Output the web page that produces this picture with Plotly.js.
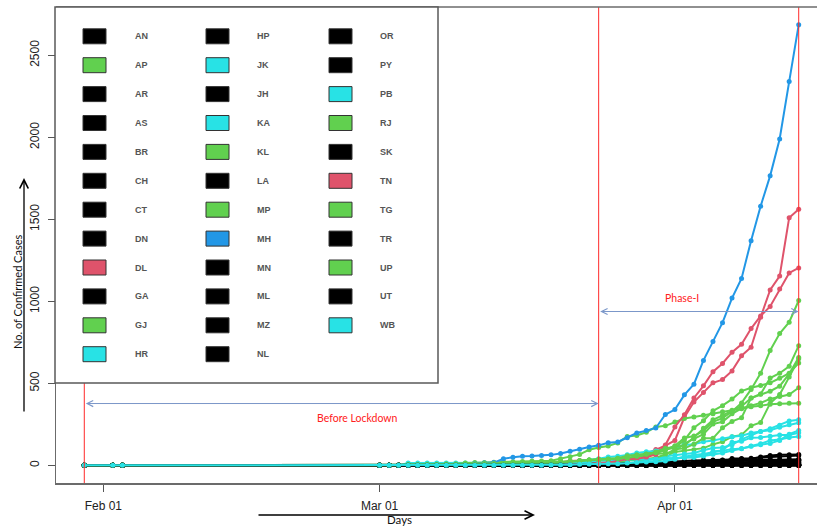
<!DOCTYPE html>
<html><head><meta charset="utf-8">
<script src="https://cdn.plot.ly/plotly-3.0.1.min.js"></script>
<style>html,body{margin:0;padding:0;background:#fff}#chart{width:817px;height:528px}</style>
</head><body><div id="chart"></div>
<script>
// Dates with reported data (Jan 30, Feb 2, Feb 3, then daily Mar 1 .. Apr 14, 2020)
const dates = ['2020-01-30','2020-02-02','2020-02-03',
 '2020-03-01','2020-03-02','2020-03-03','2020-03-04','2020-03-05','2020-03-06','2020-03-07','2020-03-08','2020-03-09','2020-03-10',
 '2020-03-11','2020-03-12','2020-03-13','2020-03-14','2020-03-15','2020-03-16','2020-03-17','2020-03-18','2020-03-19','2020-03-20',
 '2020-03-21','2020-03-22','2020-03-23','2020-03-24','2020-03-25','2020-03-26','2020-03-27','2020-03-28','2020-03-29','2020-03-30',
 '2020-03-31',
 '2020-04-01','2020-04-02','2020-04-03','2020-04-04','2020-04-05','2020-04-06','2020-04-07','2020-04-08','2020-04-09','2020-04-10',
 '2020-04-11','2020-04-12','2020-04-13','2020-04-14'];

// Cumulative confirmed cases per state
const AN = [0,0,0, 0,0,0,0,0,0,0,0,0,0, 0,0,0,0,0,0,0,0,0,0, 0,0,0,0,0,1,6,9,9,9, 10, 10,10,10,10,10,10,11,11,11,11,11,11,11,11];
const AP = [0,0,0, 0,0,0,0,0,0,0,0,0,0, 0,1,1,1,1,1,1,1,1,3, 3,6,7,8,9,11,13,14,19,23, 44, 87,132,161,190,252,266,314,348,363,381,405,420,432,473];
const AR = [0,0,0, 0,0,0,0,0,0,0,0,0,0, 0,0,0,0,0,0,0,0,0,0, 0,0,0,0,0,0,0,0,0,0, 0, 0,1,1,1,1,1,1,1,1,1,1,1,1,1];
const AS = [0,0,0, 0,0,0,0,0,0,0,0,0,0, 0,0,0,0,0,0,0,0,0,0, 0,0,0,0,0,0,0,0,0,0, 1, 1,16,20,24,26,26,27,28,29,29,29,31,31,32];
const BR = [0,0,0, 0,0,0,0,0,0,0,0,0,0, 0,0,0,0,0,0,0,0,0,0, 0,2,2,4,5,9,9,11,15,15, 21, 23,27,30,32,32,32,38,39,39,51,60,64,65,66];
const CH = [0,0,0, 0,0,0,0,0,0,0,0,0,0, 0,0,0,0,0,0,0,1,1,5, 5,6,7,7,7,7,8,8,8,13, 15, 16,18,18,18,18,18,18,18,18,19,19,21,21,21];
const CT = [0,0,0, 0,0,0,0,0,0,0,0,0,0, 0,0,0,0,0,0,0,1,1,1, 1,1,1,1,1,6,6,6,7,7, 9, 9,9,9,9,10,10,10,10,10,18,18,25,31,31];
const DN = [0,0,0, 0,0,0,0,0,0,0,0,0,0, 0,0,0,0,0,0,0,0,0,0, 0,0,0,0,0,0,0,0,0,0, 0, 0,0,0,0,1,1,1,1,1,1,1,1,1,1];
const DL = [0,0,0, 0,1,1,2,3,3,3,3,4,4, 5,6,7,7,7,7,8,10,12,17, 26,29,30,31,35,36,39,49,72,97, 120, 152,293,386,445,503,523,576,669,720,903,1069,1154,1510,1561];
const GA = [0,0,0, 0,0,0,0,0,0,0,0,0,0, 0,0,0,0,0,0,0,0,0,0, 0,0,0,0,3,3,3,3,3,5, 5, 5,5,6,7,7,7,7,7,7,7,7,7,7,7];
const GJ = [0,0,0, 0,0,0,0,0,0,0,0,0,0, 0,0,0,0,0,0,0,0,2,7, 14,18,30,33,38,43,44,53,63,69, 74, 82,88,95,105,128,144,175,186,241,262,378,432,538,650];
const HR = [0,0,0, 0,0,0,14,14,14,14,14,14,14, 14,14,14,14,14,15,16,17,17,17, 21,21,26,29,30,32,33,33,36,36, 43, 43,49,53,58,84,91,141,147,169,170,177,185,185,199];
const HP = [0,0,0, 0,0,0,0,0,0,0,0,0,0, 0,0,0,0,0,0,0,0,0,2, 2,2,3,3,3,3,3,3,3,3, 3, 3,6,6,6,13,13,18,18,18,28,32,32,32,32];
const JK = [0,0,0, 0,0,0,0,0,0,0,0,1,1, 1,1,2,2,3,3,3,3,4,4, 4,4,4,7,7,11,13,20,33,38, 55, 62,70,75,92,106,109,125,158,184,207,224,245,270,278];
const JH = [0,0,0, 0,0,0,0,0,0,0,0,0,0, 0,0,0,0,0,0,0,0,0,0, 0,0,0,0,0,0,0,0,0,0, 1, 1,2,2,3,4,4,4,4,13,13,17,19,24,27];
const KA = [0,0,0, 0,0,0,0,0,0,0,0,4,4, 4,5,6,6,6,7,11,13,15,15, 20,26,33,41,51,55,64,76,83,88, 101, 110,124,128,144,151,163,175,181,197,207,214,232,247,260];
const KL = [1,2,3, 3,3,3,3,3,3,3,8,9,15, 17,17,19,22,22,24,26,27,28,40, 52,67,95,109,118,137,176,182,202,234, 241, 265,286,295,306,314,327,336,345,357,364,373,375,378,379];
const LA = [0,0,0, 0,0,0,0,0,0,2,3,3,3, 3,3,3,3,3,4,6,8,8,10, 13,13,13,13,13,13,13,13,13,13, 13, 13,13,14,14,14,14,14,14,15,15,15,15,17,17];
const MP = [0,0,0, 0,0,0,0,0,0,0,0,0,0, 0,0,0,0,0,0,0,0,0,4, 4,6,7,14,15,20,30,33,39,47, 66, 99,104,129,165,165,229,268,290,411,435,532,562,604,730];
const MH = [0,0,0, 0,0,0,0,0,0,0,0,2,5, 11,14,17,40,50,56,57,60,64,72, 86,98,112,122,138,143,168,197,212,228, 310, 340,430,495,640,755,870,1020,1140,1370,1580,1765,1990,2340,2687];
const MN = [0,0,0, 0,0,0,0,0,0,0,0,0,0, 0,0,0,0,0,0,0,0,0,0, 0,0,0,1,1,1,1,1,1,1, 1, 1,2,2,2,2,2,2,2,2,2,2,2,2,2];
const ML = [0,0,0, 0,0,0,0,0,0,0,0,0,0, 0,0,0,0,0,0,0,0,0,0, 0,0,0,0,0,0,0,0,0,0, 0, 0,0,0,0,0,0,0,0,0,0,0,0,1,1];
const MZ = [0,0,0, 0,0,0,0,0,0,0,0,0,0, 0,0,0,0,0,0,0,0,0,0, 0,0,0,1,1,1,1,1,1,1, 1, 1,1,1,1,1,1,1,1,1,1,1,1,1,1];
const NL = [0,0,0, 0,0,0,0,0,0,0,0,0,0, 0,0,0,0,0,0,0,0,0,0, 0,0,0,0,0,0,0,0,0,0, 0, 0,0,0,0,0,0,0,0,0,0,0,0,0,0];
const OR = [0,0,0, 0,0,0,0,0,0,0,0,0,0, 0,0,0,0,0,1,1,2,2,2, 2,2,2,2,2,3,3,3,3,3, 4, 4,5,5,20,21,21,42,42,44,48,50,54,54,60];
const PY = [0,0,0, 0,0,0,0,0,0,0,0,0,0, 0,0,0,0,0,0,1,1,1,1, 1,1,1,1,1,1,1,1,1,1, 1, 3,5,5,5,5,5,5,5,5,5,7,7,7,7];
const PB = [0,0,0, 0,0,0,0,0,0,0,0,1,1, 1,1,1,1,1,1,1,1,2,2, 13,21,21,29,29,33,38,38,38,41, 41, 46,47,48,57,68,76,91,101,118,132,151,158,170,176];
const RJ = [0,0,0, 0,0,1,1,1,1,1,1,1,1, 2,3,3,3,4,4,4,7,7,17, 23,28,32,36,36,40,45,54,59,74, 93, 120,167,179,210,266,288,328,381,463,561,700,804,873,1005];
const SK = [0,0,0, 0,0,0,0,0,0,0,0,0,0, 0,0,0,0,0,0,0,0,0,0, 0,0,0,0,0,0,0,0,0,0, 0, 0,0,0,0,0,0,0,0,0,0,0,0,0,0];
const TN = [0,0,0, 0,0,0,0,0,0,1,1,1,1, 1,1,1,1,1,1,1,1,3,3, 6,7,9,15,18,26,38,40,50,67, 124, 234,309,411,485,571,621,690,738,834,911,969,1075,1173,1204];
const TG = [0,0,0, 0,1,1,1,1,1,1,1,1,1, 1,1,1,3,4,5,6,13,16,19, 21,27,33,36,39,44,59,65,70,77, 97, 107,154,229,272,333,364,404,453,473,487,503,531,562,624];
const TR = [0,0,0, 0,0,0,0,0,0,0,0,0,0, 0,0,0,0,0,0,0,0,0,0, 0,0,0,0,0,0,0,0,0,0, 0, 0,0,0,0,0,1,1,2,2,2,2,2,2,2];
const UP = [0,0,0, 0,0,0,6,6,7,7,7,7,9, 10,11,11,12,13,13,15,17,19,24, 27,28,33,35,37,41,45,55,68,82, 104, 113,121,172,227,278,305,332,361,410,433,452,483,558,657];
const UT = [0,0,0, 0,0,0,0,0,0,0,0,0,0, 0,0,0,0,1,1,1,2,3,3, 3,3,4,4,5,5,6,6,7,7, 7, 7,10,10,22,26,31,31,33,35,35,35,35,35,37];
const WB = [0,0,0, 0,0,0,0,0,0,0,0,0,0, 0,0,0,0,0,0,1,1,2,3, 4,7,9,9,10,10,15,17,21,22, 27, 37,53,63,69,80,91,99,103,116,126,134,152,190,213];

const stateCodes = ['AN','AP','AR','AS','BR','CH','CT','DN','DL','GA','GJ','HR',
                    'HP','JK','JH','KA','KL','LA','MP','MH','MN','ML','MZ','NL',
                    'OR','PY','PB','RJ','SK','TN','TG','TR','UP','UT','WB'];
const seriesList = [AN,AP,AR,AS,BR,CH,CT,DN,DL,GA,GJ,HR,
                    HP,JK,JH,KA,KL,LA,MP,MH,MN,ML,MZ,NL,
                    OR,PY,PB,RJ,SK,TN,TG,TR,UP,UT,WB];

const BLK='#000000', GRN='#61D04F', CYN='#28E2E5', RED='#DF536B', BLU='#2297E6';
const stateColors = [BLK,GRN,BLK,BLK,BLK,BLK,BLK,BLK,RED,BLK,GRN,CYN,
                     BLK,CYN,BLK,CYN,GRN,BLK,GRN,BLU,BLK,BLK,BLK,BLK,
                     BLK,BLK,CYN,GRN,BLK,RED,GRN,BLK,GRN,BLK,CYN];

const phaseDates = ['2020-01-30','2020-03-24','2020-04-14'];
const xTickVals = ['2020-02-01','2020-03-01','2020-04-01'];
const xTickText = ['Feb 01','Mar 01','Apr 01'];
const yTickVals = [0,500,1000,1500,2000,2500];

// pixel -> paper helpers (plot area: x 56..817, y 7..483)
const PL=56, PR=817, PT=7, PB_=483;
const X = p => (p-PL)/(PR-PL);
const Y = p => (PB_-p)/(PB_-PT);

const traces = seriesList.map((s,i)=>({
  x: dates, y: s, type:'scatter', mode:'lines+markers', name: stateCodes[i],
  line:{color:stateColors[i], width:2},
  marker:{color:stateColors[i], size:5},
  showlegend:false, hoverinfo:'skip'
}));

const shapes = [];
phaseDates.forEach(d=>shapes.push({type:'line', xref:'x', yref:'paper', x0:d, x1:d, y0:0, y1:1,
  line:{color:'#ff2a2a', width:1}, layer:'above'}));
shapes.push({type:'line', xref:'paper', yref:'paper', x0:0, x1:1, y0:1, y1:1, line:{color:'#6b6b6b', width:1.5}, layer:'above'});
// legend box
shapes.push({type:'rect', xref:'paper', yref:'paper', x0:X(55), x1:X(438), y0:Y(383), y1:Y(7),
  fillcolor:'#ffffff', line:{color:'#5a5a5a', width:1.5}, layer:'above'});

const annotations = [];
const colSw = [83,206,329], colTx = [133,255,378];
stateCodes.forEach((c,i)=>{
  const col = Math.floor(i/12), row = i%12;
  const cy = 36.3 + row*28.9;
  shapes.push({type:'rect', xref:'paper', yref:'paper', x0:X(colSw[col]), x1:X(colSw[col]+23),
    y0:Y(cy+7.5), y1:Y(cy-7.5), fillcolor:stateColors[i], line:{color:'#333333', width:1}, layer:'above'});
  annotations.push({xref:'paper', yref:'paper', x:X(colTx[col]), y:Y(cy), text:'<b>'+c+'</b>',
    showarrow:false, xanchor:'left', yanchor:'middle', font:{family:'Liberation Sans, Arial', size:9, color:'#555'}});
});

const lab = {family:'Lato, Open Sans, sans-serif'};
// y title + arrow
annotations.push({xref:'paper', yref:'paper', x:X(17), y:Y(292), text:'No. of Confirmed Cases', textangle:-90,
  showarrow:false, xanchor:'center', yanchor:'middle', font:{family:lab.family, size:11, color:'#111'}});
annotations.push({xref:'paper', yref:'paper', x:X(24), y:Y(178), ax:0, ay:235, text:'', showarrow:true,
  arrowhead:5, arrowsize:1.3, arrowwidth:1.3, arrowcolor:'#000'});
// x title + arrow
annotations.push({xref:'paper', yref:'paper', x:X(399), y:Y(519), text:'Days', showarrow:false,
  xanchor:'center', yanchor:'middle', font:{family:lab.family, size:11.5, color:'#111'}});
annotations.push({xref:'paper', yref:'paper', x:X(535), y:Y(515), ax:-278, ay:0, text:'', showarrow:true,
  arrowhead:5, arrowsize:1.3, arrowwidth:1.3, arrowcolor:'#000'});
// phase arrows
const arrowCol = '#7b97c9';
annotations.push({xref:'x', yref:'y', x:phaseDates[1], y:377, axref:'x', ayref:'y', ax:phaseDates[0], ay:377,
  text:'', showarrow:true, arrowside:'end+start', arrowhead:5, startarrowhead:5, arrowsize:1.2, startarrowsize:1.2,
  arrowwidth:1, arrowcolor:arrowCol});
annotations.push({xref:'x', yref:'y', x:phaseDates[2], y:938, axref:'x', ayref:'y', ax:phaseDates[1], ay:938,
  text:'', showarrow:true, arrowside:'end+start', arrowhead:5, startarrowhead:5, arrowsize:1.2, startarrowsize:1.2,
  arrowwidth:1, arrowcolor:arrowCol});
annotations.push({xref:'paper', yref:'paper', x:X(357), y:Y(418), text:'Before Lockdown', showarrow:false,
  xanchor:'center', yanchor:'middle', font:{family:lab.family, size:10.5, color:'#ff2020'}});
annotations.push({xref:'paper', yref:'paper', x:X(682), y:Y(298), text:'Phase-I', showarrow:false,
  xanchor:'center', yanchor:'middle', font:{family:lab.family, size:10.5, color:'#ff2020'}});

const layout = {
  width:817, height:528,
  margin:{l:56, r:0, t:7, b:45, pad:0},
  paper_bgcolor:'#ffffff', plot_bgcolor:'#ffffff',
  showlegend:false,
  xaxis:{type:'date', range:['2020-01-27 00:43','2020-04-15 22:05'],
    tickmode:'array', tickvals:xTickVals, ticktext:xTickText,
    ticks:'outside', ticklen:7, tickwidth:1, tickcolor:'#555', ticklabelstandoff:4,
    showline:true, linecolor:'#6b6b6b', linewidth:1.5, showgrid:false, zeroline:false,
    tickfont:{family:'Liberation Sans, Arial', size:12, color:'#222'}},
  yaxis:{range:[-107.48, 2794.48], tickmode:'array', tickvals:yTickVals,
    ticks:'outside', ticklen:7, tickwidth:1, tickcolor:'#555', tickangle:-90, ticklabelstandoff:4,
    showline:true, linecolor:'#6b6b6b', linewidth:1.5, showgrid:false, zeroline:false,
    tickfont:{family:'Liberation Sans, Arial', size:12, color:'#222'}},
  shapes:shapes, annotations:annotations
};

Plotly.newPlot('chart', traces, layout, {displayModeBar:false, staticPlot:true});
</script>
</body></html>
